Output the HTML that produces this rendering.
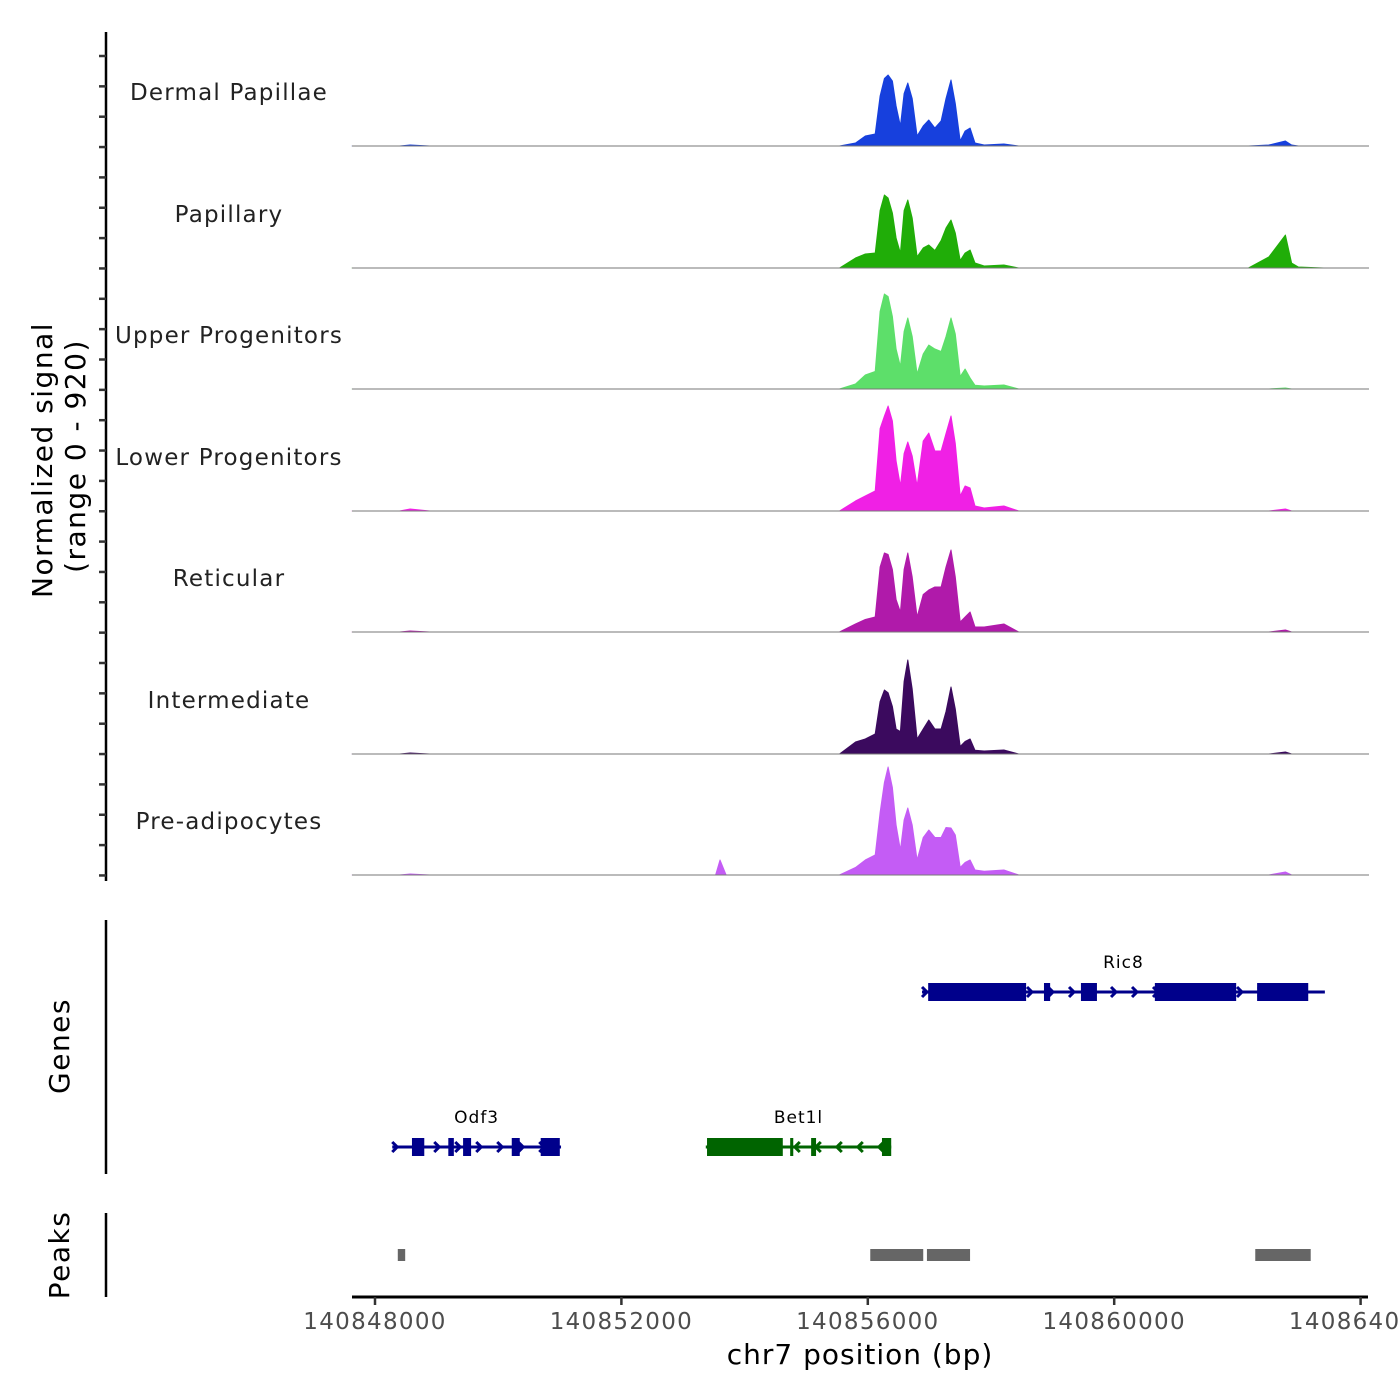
<!DOCTYPE html>
<html><head><meta charset="utf-8"><style>
body{margin:0;background:#fff}
svg{display:block;font-family:"DejaVu Sans","Liberation Sans",sans-serif}
</style></head><body>
<svg id="chart" width="1400" height="1400" viewBox="0 0 1400 1400" xmlns="http://www.w3.org/2000/svg">
<g id="left">
<line x1="106" y1="32" x2="106" y2="881" stroke="#000" stroke-width="2.5"/>
<line x1="106" y1="920" x2="106" y2="1174" stroke="#000" stroke-width="2.5"/>
<line x1="106" y1="1213" x2="106" y2="1297" stroke="#000" stroke-width="2.5"/>
<text transform="translate(52,460) rotate(-90)" text-anchor="middle" font-size="28" letter-spacing="1.5">Normalized signal</text>
<text transform="translate(85,456) rotate(-90)" text-anchor="middle" font-size="28" letter-spacing="1.5">(range 0 - 920)</text>
<text transform="translate(69,1046) rotate(-90)" text-anchor="middle" font-size="28" letter-spacing="1.5">Genes</text>
<text transform="translate(69,1255) rotate(-90)" text-anchor="middle" font-size="28" letter-spacing="1.5">Peaks</text>
</g>
<g id="tracks"></g>
<g id="genes"></g>
<g id="peaks"></g>
<g id="xaxis">
<line x1="352" y1="1297" x2="1368" y2="1297" stroke="#000" stroke-width="3"/>
<text x="860" y="1364" text-anchor="middle" font-size="28" letter-spacing="1">chr7 position (bp)</text>
</g>
</svg>
<script>
// positions in kb offset from 140848000
const positions = [-0.37,0.40,0.57,0.89,5.53,5.60,5.70,6.24,7.54,7.80,7.96,8.12,8.20,8.27,8.33,8.40,8.46,8.53,8.59,8.65,8.72,8.80,8.90,8.99,9.09,9.19,9.27,9.35,9.42,9.50,9.58,9.66,9.74,9.89,10.21,10.45,10.78,14.18,14.51,14.78,14.88,14.99,15.40,16.11];
const trackNames = ["Dermal Papillae","Papillary","Upper Progenitors","Lower Progenitors","Reticular","Intermediate","Pre-adipocytes"];
const trackColors = ["#1740dd","#20ad08","#5ddf6a","#f020e5","#b01aaa","#3b0a5e","#c45cf5"];
const sigDermal = [0,0,8,0,0,0,0,0,0,24,80,96,400,540,568,520,320,160,420,504,380,80,160,208,144,200,380,528,340,40,120,144,24,8,16,0,0,0,8,40,8,0,0,0];
const sigPapillary = [0,0,0,0,0,0,0,0,0,80,112,120,460,584,560,440,240,120,460,544,400,90,160,184,140,220,320,384,280,60,120,144,40,16,24,0,0,0,88,264,40,8,0,0];
const sigUpper = [0,0,0,0,0,0,0,0,0,40,112,140,620,760,740,580,320,180,460,568,420,120,280,352,320,300,420,568,440,100,160,88,30,24,32,0,0,0,0,8,0,0,0,0];
const sigLower = [0,0,16,0,0,0,0,0,0,80,120,160,660,760,840,720,400,200,460,552,440,200,560,624,480,480,620,760,540,120,200,184,40,24,40,0,0,0,0,16,0,0,0,0];
const sigReticular = [0,0,8,0,0,0,0,0,0,64,100,120,520,632,620,500,260,160,500,632,440,120,300,336,360,360,520,656,440,80,120,160,40,40,64,0,0,0,0,16,0,0,0,0];
const sigIntermediate = [0,0,8,0,0,0,0,0,0,96,120,160,420,512,490,380,200,180,580,752,520,120,200,272,200,200,340,536,360,60,100,120,30,24,32,0,0,0,0,16,0,0,0,0];
const sigPreadipo = [0,0,8,0,0,120,0,0,0,60,120,160,500,740,864,700,400,200,440,536,400,120,300,360,300,300,380,376,320,60,100,120,40,30,40,0,0,0,0,24,0,0,0,0];
const signals = [sigDermal,sigPapillary,sigUpper,sigLower,sigReticular,sigIntermediate,sigPreadipo];
const xTicks = [0,4,8,12,16];
const xTickLabels = ["140848000","140852000","140856000","140860000","140864000"];
const peakStarts = [0.37,8.04,8.96,14.29];
const peakEnds = [0.49,8.90,9.66,15.19];
const geneNames = ["Ric8","Odf3","Bet1l"];
const geneStarts = [8.88,0.28,5.37];
const geneEnds = [15.42,3.02,8.38];
const geneStrands = [1,1,-1];
const geneRows = [0,1,1];
const exonGene = [0,0,0,0,0,1,1,1,1,1,2,2,2,2];
const exonStarts = [8.98,10.86,11.46,12.66,14.32,0.60,1.19,1.43,2.22,2.69,5.39,6.74,7.08,8.23];
const exonEnds = [10.57,10.96,11.72,13.98,15.15,0.80,1.28,1.56,2.35,3.00,6.62,6.79,7.16,8.38];

const NS="http://www.w3.org/2000/svg";
const X0=375, PXKB=61.6;
function xs(kb){return X0+kb*PXKB;}
const baselines=[146,268,389,511,632,754,875];
const UNIT=115/920;
function ys(i,v){return baselines[i]-v*UNIT;}
function mk(tag,attrs,parent){const e=document.createElementNS(NS,tag);for(const k in attrs)e.setAttribute(k,attrs[k]);parent.appendChild(e);return e;}

const left=document.getElementById('left');
for(let i=0;i<28;i++){const y=56+i*30.35;
 const t=mk('line',{x1:99,x2:106,y1:y,y2:y,stroke:'#333','stroke-width':2.5},left);
 
 }

const tracks=document.getElementById('tracks');
signals.forEach((sig,i)=>{
 const g=mk('g',{},tracks);
 
 
 let d='M'+xs(positions[0])+','+baselines[i];
 positions.forEach((p,j)=>{d+=' L'+xs(p).toFixed(1)+','+ys(i,sig[j]).toFixed(1);});
 d+=' L'+xs(positions[positions.length-1])+','+baselines[i]+' Z';
 const a=mk('path',{d:d,fill:trackColors[i],stroke:trackColors[i],'stroke-width':1,'stroke-linejoin':'round'},g);
 
 
 const b=mk('line',{x1:352,x2:1369,y1:baselines[i],y2:baselines[i],stroke:'#777','stroke-width':1},g);
 
 
 const t=mk('text',{x:229,y:baselines[i]-46,'text-anchor':'middle','font-size':23,'letter-spacing':1.2,fill:'#222'},g);
 t.textContent=trackNames[i];
 
 
});

const genes=document.getElementById('genes');
const rowY=[992,1147];
geneNames.forEach((n,i)=>{
 const y=rowY[geneRows[i]], c=geneStrands[i]>0?'#00008b':'#006400';
 const g=mk('g',{},genes);
 
 
 const x1=xs(geneStarts[i]), x2=xs(geneEnds[i]);
 mk('line',{x1:x1,x2:x2,y1:y,y2:y,stroke:c,'stroke-width':3},g);
 for(let x=x1+5;x<x2;x+=21){const s=geneStrands[i]*5;
  mk('polyline',{points:(x-s)+','+(y-5)+' '+x+','+y+' '+(x-s)+','+(y+5),fill:'none',stroke:c,'stroke-width':3},g);}
 exonGene.forEach((ge,k)=>{if(ge!==i)return;
  const r=mk('rect',{x:xs(exonStarts[k]),y:y-9,width:xs(exonEnds[k])-xs(exonStarts[k]),height:18,fill:c},g);
  
  });
 const t=mk('text',{x:(x1+x2)/2,y:y-24,'text-anchor':'middle','font-size':17,'letter-spacing':1},g);
 t.textContent=n;
 
 
});

const peaks=document.getElementById('peaks');
peakStarts.forEach((s,i)=>{
 const r=mk('rect',{x:xs(s),y:1249,width:xs(peakEnds[i])-xs(s),height:12,fill:'#666'},peaks);
 
 
});

const xa=document.getElementById('xaxis');
xTicks.forEach((k,i)=>{
 const l=mk('line',{x1:xs(k),x2:xs(k),y1:1297,y2:1305,stroke:'#333','stroke-width':2.5},xa);
 
 
 const t=mk('text',{x:xs(k),y:1329,'text-anchor':'middle','font-size':23,'letter-spacing':1.3,fill:'#4d4d4d'},xa);
 t.textContent=xTickLabels[i];
 
 
});
</script>
</body></html>
